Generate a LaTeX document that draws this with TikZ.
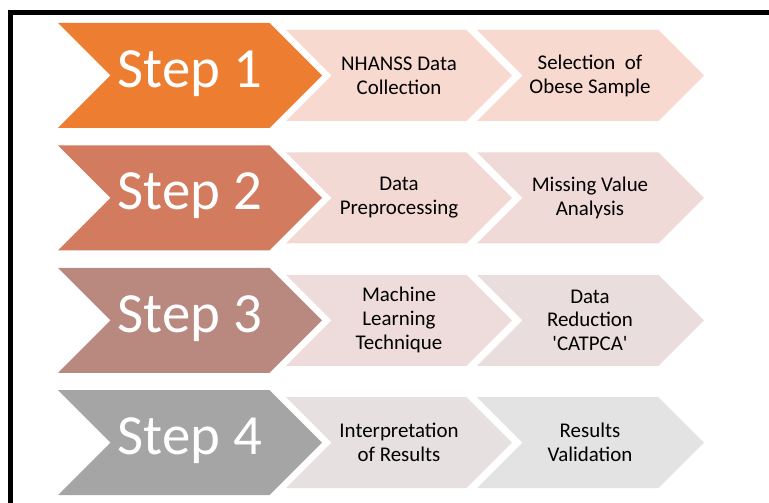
\documentclass[tikz,border=0pt]{standalone}
\usepackage{fontspec}
\setmainfont{Carlito}[Ligatures=TeXOff]
\definecolor{st1}{HTML}{ED7D31}
\definecolor{st2}{HTML}{D27B5E}
\definecolor{st3}{HTML}{B98980}
\definecolor{st4}{HTML}{A5A5A5}
\definecolor{la1}{HTML}{F7D9D0}
\definecolor{lb1}{HTML}{F7D9D0}
\definecolor{la2}{HTML}{F3D9D3}
\definecolor{lb2}{HTML}{EFDAD7}
\definecolor{la3}{HTML}{EDDCDB}
\definecolor{lb3}{HTML}{E9DDDD}
\definecolor{la4}{HTML}{E6E0E0}
\definecolor{lb4}{HTML}{E3E3E3}
% #1 left, #2 top, #3 bottom, #4 tip x, #5 colour
\newcommand{\chevshape}[5]{%
  \pgfmathsetmacro{\chd}{(#3-#2)/2}%
  \fill[#5] (#1,#2) -- ({#4-\chd},#2) -- (#4,{#2+\chd}) -- ({#4-\chd},#3) -- (#1,#3) -- ({#1+\chd},{#2+\chd}) -- cycle;}
\begin{document}
\begin{tikzpicture}[x=1bp,y=-1bp,
  steptext/.style={text=white,font=\fontsize{57}{60}\selectfont,anchor=center,inner sep=0pt},
  boxtext/.style={text=black,font=\fontsize{21}{24}\selectfont,align=center,anchor=center,inner sep=0pt}]
\useasboundingbox (0,0) rectangle (769,503);
\draw[line width=5bp] (10.5,520) -- (10.5,12.2) -- (790,12.2);
\foreach \i/\sa/\sb in {1/NHANSS Data\\Collection/Selection~~of\\Obese Sample,
                        2/Data\\Preprocessing/Missing Value\\Analysis,
                        3/Machine\\Learning\\Technique/Data\\Reduction\\'CATPCA',
                        4/Interpretation\\of Results/Results\\Validation}{
  \pgfmathsetmacro{\t}{23+122.4*(\i-1)}
  \pgfmathsetmacro{\b}{\t+105}
  \pgfmathsetmacro{\lt}{\t+7}
  \pgfmathsetmacro{\lb}{\b-7}
  \pgfmathsetmacro{\m}{\t+52.5}
  \chevshape{58}{\t}{\b}{322}{st\i}
  \chevshape{286}{\lt}{\lb}{512}{la\i}
  \chevshape{477}{\lt}{\lb}{704}{lb\i}
  \node[steptext] (s\i) at (190,\m-2) {Step \i};
  \node[boxtext] (a\i) at (399,\m) {\sa};
  \node[boxtext] (b\i) at (590,\m) {\sb};
}
\end{tikzpicture}
\end{document}
